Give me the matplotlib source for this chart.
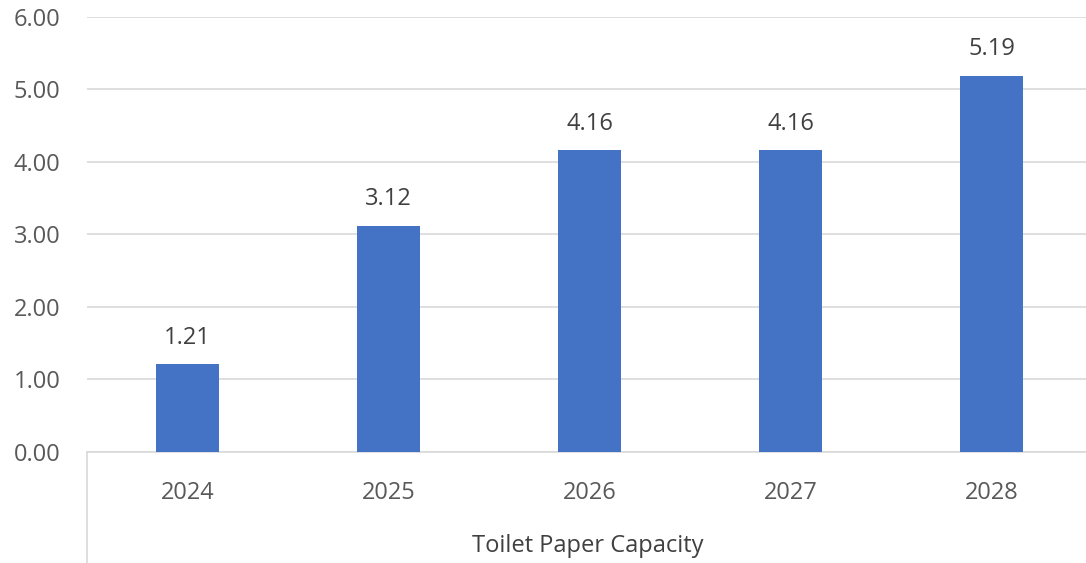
import matplotlib.pyplot as plt
from matplotlib.lines import Line2D

years = ['2024', '2025', '2026', '2027', '2028']
capacity = [1.21, 3.12, 4.16, 4.16, 5.19]
yticks = [0, 1, 2, 3, 4, 5, 6]
axis_title = 'Toilet Paper Capacity'

plt.rcParams['font.family'] = ['Open Sans', 'DejaVu Sans']
txt = '#595959'
grid = '#D9D9D9'

fig = plt.figure(figsize=(10.86, 5.63), dpi=100)
ax = fig.add_axes([0.0801, 0.1972, 0.9254, 0.7726])

x = range(len(years))
bars = ax.bar(x, capacity, width=0.31, color='#4472C4', zorder=3)
for b, v in zip(bars, capacity):
    ax.text(b.get_x() + b.get_width() / 2, v + 0.2, f'{v:.2f}',
            ha='center', va='bottom', fontsize=17, color='#404040')

ax.set_xlim(-0.5, len(years) - 0.5)
ax.set_ylim(0, 6)
ax.set_yticks(yticks)
ax.set_yticklabels([f'{t:.2f}' for t in yticks])
ax.set_xticks(list(x))
ax.set_xticklabels(years)
ax.tick_params(axis='both', length=0, labelsize=17, labelcolor=txt)
ax.tick_params(axis='x', pad=21)
ax.tick_params(axis='y', pad=19)
ax.yaxis.grid(True, color=grid, linewidth=1.2, zorder=0)
for s in ['top', 'right', 'left']:
    ax.spines[s].set_visible(False)
ax.spines['bottom'].set_color(grid)
ax.spines['bottom'].set_linewidth(1.2)

# left border of the multi-level category axis
fig.add_artist(Line2D([0.0801, 0.0801], [0, 0.1972], color=grid, linewidth=1.2))
fig.text(0.5414, 0.031, axis_title, ha='center', va='center', fontsize=17, color='#404040')

fig.savefig('out.png', dpi=100)
